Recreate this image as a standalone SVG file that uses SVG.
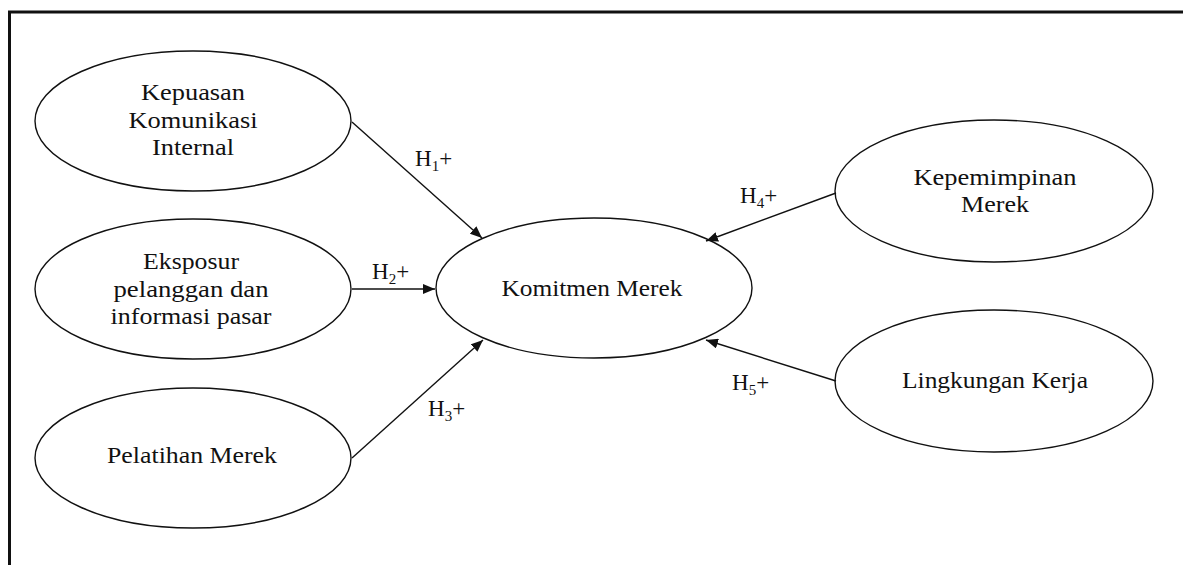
<svg xmlns="http://www.w3.org/2000/svg" width="1183" height="565" viewBox="0 0 1183 565">
<defs>
<style>
.node ellipse{fill:#fff;stroke:#111;stroke-width:1.4}
.lbl{font-family:"Liberation Serif","Times New Roman",serif;font-size:24px;fill:#111;text-anchor:middle}
.h{font-family:"Liberation Serif","Times New Roman",serif;font-size:23px;fill:#111}
.sub{font-size:15px}
.conn line{stroke:#111;stroke-width:1.4;marker-end:url(#arr)}
</style>
<marker id="arr" viewBox="0 0 12 10" refX="12" refY="5" markerWidth="12" markerHeight="10" markerUnits="userSpaceOnUse" orient="auto">
<path d="M0,0 L12,5 L0,10 Z" fill="#111"/>
</marker>
</defs>
<rect width="1183" height="565" fill="#fff"/>
<path d="M9.5,565 L9.5,12 L1183,12" fill="none" stroke="#111" stroke-width="3"/>
<g id="n1" class="node"><ellipse cx="193" cy="121" rx="158" ry="70"/>
<text class="lbl" x="193" y="100" textLength="104" lengthAdjust="spacingAndGlyphs">Kepuasan</text>
<text class="lbl" x="193" y="128" textLength="129" lengthAdjust="spacingAndGlyphs">Komunikasi</text>
<text class="lbl" x="193" y="155" textLength="82" lengthAdjust="spacingAndGlyphs">Internal</text></g>
<g id="n2" class="node"><ellipse cx="193" cy="289" rx="158" ry="70"/>
<text class="lbl" x="191" y="269" textLength="96" lengthAdjust="spacingAndGlyphs">Eksposur</text>
<text class="lbl" x="191" y="297" textLength="155" lengthAdjust="spacingAndGlyphs">pelanggan dan</text>
<text class="lbl" x="191" y="324" textLength="161" lengthAdjust="spacingAndGlyphs">informasi pasar</text></g>
<g id="n3" class="node"><ellipse cx="193" cy="458" rx="158" ry="70"/>
<text class="lbl" x="192" y="463" textLength="170" lengthAdjust="spacingAndGlyphs">Pelatihan Merek</text></g>
<g id="n4" class="node"><ellipse cx="594" cy="288" rx="158" ry="70"/>
<text class="lbl" x="592" y="296" textLength="181" lengthAdjust="spacingAndGlyphs">Komitmen Merek</text></g>
<g id="n5" class="node"><ellipse cx="994" cy="191" rx="159" ry="71"/>
<text class="lbl" x="995" y="185" textLength="163" lengthAdjust="spacingAndGlyphs">Kepemimpinan</text>
<text class="lbl" x="995" y="212" textLength="68" lengthAdjust="spacingAndGlyphs">Merek</text></g>
<g id="n6" class="node"><ellipse cx="994" cy="381" rx="159" ry="71"/>
<text class="lbl" x="995" y="388" textLength="186" lengthAdjust="spacingAndGlyphs">Lingkungan Kerja</text></g>
<g id="connectors" class="conn">
<line x1="352" y1="122" x2="482" y2="238"/>
<line x1="352" y1="289" x2="435" y2="289"/>
<line x1="352" y1="458" x2="483" y2="340"/>
<line x1="836" y1="193" x2="706" y2="241"/>
<line x1="836" y1="381" x2="706" y2="340"/>
</g>
<g id="labels">
<text class="h" x="415" y="166">H<tspan class="sub" dy="5">1</tspan><tspan dy="-5">+</tspan></text>
<text class="h" x="372" y="279">H<tspan class="sub" dy="5">2</tspan><tspan dy="-5">+</tspan></text>
<text class="h" x="428" y="416">H<tspan class="sub" dy="5">3</tspan><tspan dy="-5">+</tspan></text>
<text class="h" x="740" y="203">H<tspan class="sub" dy="5">4</tspan><tspan dy="-5">+</tspan></text>
<text class="h" x="732" y="390">H<tspan class="sub" dy="5">5</tspan><tspan dy="-5">+</tspan></text>
</g>
</svg>
